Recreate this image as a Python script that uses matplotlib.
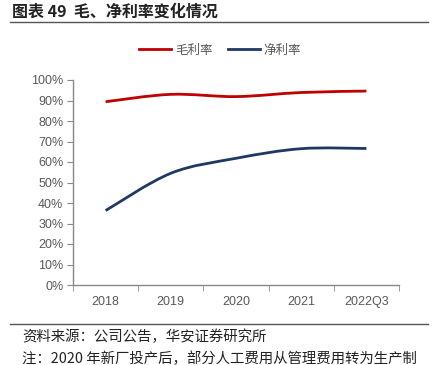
import matplotlib
matplotlib.use("Agg")
import matplotlib.pyplot as plt
from matplotlib.path import Path
from matplotlib.patches import PathPatch
from matplotlib.lines import Line2D
import numpy as np

plt.rcParams['font.family'] = ['Noto Sans CJK SC', 'DejaVu Sans']

categories = ['2018', '2019', '2020', '2021', '2022Q3']
gross_margin = [89.4, 93.0, 91.9, 93.9, 94.6]
net_margin = [36.3, 54.5, 61.8, 66.5, 66.6]
yticks = [0, 10, 20, 30, 40, 50, 60, 70, 80, 90, 100]
series_names = ['毛利率', '净利率']
colors = ['#C00000', '#1F3864']

fig = plt.figure(figsize=(4.34, 3.65), dpi=100)
ax = fig.add_axes([73/434, 1-285/365, 326/434, 205/365])

def smooth_path(xs, ys):
    pts = np.column_stack([xs, ys]).astype(float)
    n = len(pts)
    verts = [pts[0]]
    codes = [Path.MOVETO]
    for i in range(n - 1):
        p0 = pts[i - 1] if i > 0 else pts[i]
        p1 = pts[i]
        p2 = pts[i + 1]
        p3 = pts[i + 2] if i + 2 < n else pts[i + 1]
        c1 = p1 + (p2 - p0) / 6.0
        c2 = p2 - (p3 - p1) / 6.0
        verts += [c1, c2, p2]
        codes += [Path.CURVE4] * 3
    return Path(verts, codes)

x = np.arange(len(categories))
for vals, col in zip([gross_margin, net_margin], colors):
    patch = PathPatch(smooth_path(x, vals), facecolor='none', edgecolor=col,
                      lw=2.0, capstyle='butt', joinstyle='round')
    ax.add_patch(patch)

ax.set_xlim(-0.5, len(categories) - 0.5)
ax.set_ylim(0, 100)
ax.set_yticks(yticks)
ax.set_yticklabels([f'{v}%' for v in yticks])
ax.set_xticks(x)
ax.set_xticklabels(categories)
ax.set_xticks(np.arange(-0.5, len(categories)), minor=True)
ax.tick_params(axis='x', which='major', length=0, pad=8, labelsize=9, labelcolor='#595959',
               labelfontfamily='Liberation Sans')
ax.tick_params(axis='x', which='minor', length=4, color='#898989', direction='out')
ax.tick_params(axis='y', length=4, color='#898989', direction='out', labelsize=9,
               labelcolor='#595959', pad=3, labelfontfamily='Liberation Sans')
for s in ['top', 'right']:
    ax.spines[s].set_visible(False)
for s in ['left', 'bottom']:
    ax.spines[s].set_color('#898989')
    ax.spines[s].set_linewidth(1.0)

handles = [Line2D([0], [0], color=c, lw=2.0) for c in colors]
fig.legend(handles, series_names, loc='center', bbox_to_anchor=(220/434, 1 - 50/365),
           ncol=2, frameon=False, fontsize=9, handlelength=2.6, handletextpad=0.3,
           columnspacing=1.2, labelcolor='#595959')

fig.text(12/434, 1 - 12/365, '图表 49  毛、净利率变化情况', fontsize=11.5, fontweight='bold',
         va='center', ha='left', color='#222222')
fig.add_artist(Line2D([10/434, 428/434], [1 - 22/365, 1 - 22/365], color='#555555', lw=1.0))
fig.add_artist(Line2D([10/434, 428/434], [1 - 324/365, 1 - 324/365], color='#555555', lw=1.0))
fig.text(22/434, 1 - 337/365, '资料来源：公司公告，华安证券研究所', fontsize=10.4, va='center',
         ha='left', color='#222222')
fig.text(22/434, 1 - 359/365, '注：2020 年新厂投产后，部分人工费用从管理费用转为生产制', fontsize=10.4,
         va='center', ha='left', color='#222222')

fig.savefig('out.png', dpi=100, facecolor='white')
